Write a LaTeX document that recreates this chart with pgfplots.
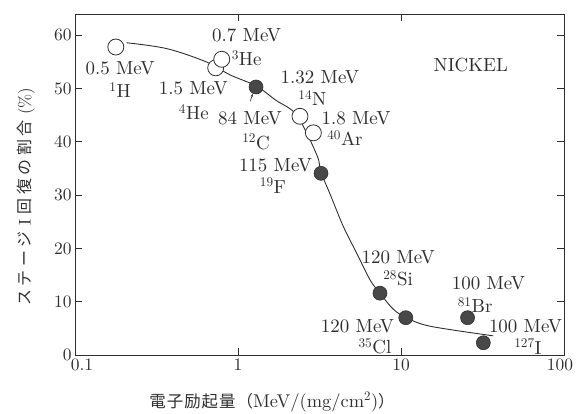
\documentclass[border=0pt]{standalone}
\usepackage{pgfplots}
\pgfplotsset{compat=1.18}
\usetikzlibrary{arrows.meta}
\usepackage{fontspec}
\setmainfont{lmroman10-regular.otf}[BoldFont=lmroman10-bold.otf, ItalicFont=lmroman10-italic.otf]
\newfontfamily\cjk[LetterSpace=22]{Noto Sans CJK JP}
\newfontfamily\cjkx[LetterSpace=6]{Noto Sans CJK JP}
\definecolor{ink}{HTML}{2E2E2E}
\definecolor{dot}{HTML}{484848}
\begin{document}
\begin{tikzpicture}
\path[use as bounding box] (-75bp,-59bp) rectangle (509bp,355bp);
\begin{axis}[
  at={(0,0)}, anchor=south west,
  scale only axis, width=489bp, height=341bp,
  xmode=log, xmin=0.1, xmax=100, ymin=0, ymax=64,
  xtick={0.1,1,10,100}, xticklabels={\hspace*{14bp}0.1,1,10,\hspace*{-8bp}100},
  xminorticks=false,
  ytick={0,10,20,30,40,50,60},
  tick align=inside, major tick length=7bp,
  axis line style={ink, line width=0.9pt},
  every tick/.style={ink, line width=0.8pt},
  tick label style={font=\fontsize{17.5}{19}\selectfont, text=ink},
  /pgf/number format/assume math mode=true,
  xlabel={{\cjkx\fontsize{16.5}{18}\selectfont 電子励起量（}{\fontsize{18.5}{20}\selectfont MeV/(mg/cm\textsuperscript{2})}{\cjkx\fontsize{16.5}{18}\selectfont ）}},
  xlabel style={at={(axis description cs:0.403,-0.138)}, anchor=center, text=ink},
  ylabel={{\cjk\fontsize{16}{17}\selectfont ステージ}{\fontsize{17}{18}\selectfont\ I\ }{\cjk\fontsize{16}{17}\selectfont 回復の割合}{\fontsize{17}{18}\selectfont\ (\%)}},
  ylabel style={at={(axis description cs:-0.100,0.465)}, anchor=center, rotate=0, text=ink},
  clip=false,
  every node/.append style={text=ink},
]
% fitted curve
\addplot[ink, line width=0.9pt, smooth, tension=0.55] coordinates {
 (0.207,58.6) (0.366,57.5) (0.64,55.0) (0.89,52.6) (1.29,50.5) (1.71,47.8)
 (2.29,45.0) (3.04,37.6) (3.23,34.3) (3.66,30.3) (4.43,24.1) (5.35,19.1)
 (6.46,14.1) (7.43,11.6) (8.97,8.6) (10.8,7.0) (15.1,5.4) (36.8,3.6)
};
% open circles
\addplot[only marks, mark=*, mark size=8bp, mark options={fill=white, draw=ink, line width=0.8pt}] coordinates {
 (0.178,57.8) (0.73,53.9) (0.795,55.5) (2.40,44.8) (2.90,41.7)
};
% filled circles
\addplot[only marks, mark=*, mark size=7bp, mark options={fill=dot, draw=ink, line width=0.6pt}] coordinates {
 (1.29,50.3) (3.23,34.1) (7.43,11.6) (10.7,7.0) (25.6,7.0) (32,2.3)
};
\draw[ink, line width=0.6pt, -{Stealth[length=3bp,width=2.5bp]}] (axis cs:1.19,47.6) -- (axis cs:1.23,49.0);
\begin{scope}[every node/.style={font=\fontsize{19}{21}\selectfont, text=ink, inner sep=0pt, anchor=center}]
\node at (axis cs:0.189,53.8) {0.5 MeV};
\node at (axis cs:0.189,49.7) {\textsuperscript{1}H};
\node at (axis cs:1.13,60.0) {0.7 MeV};
\node at (axis cs:1.13,55.7) {\textsuperscript{3}He};
\node at (axis cs:0.532,50.1) {1.5 MeV};
\node at (axis cs:0.536,45.6) {\textsuperscript{4}He};
\node at (axis cs:1.185,44.5) {84 MeV};
\node at (axis cs:1.29,40.0) {\textsuperscript{12}C};
\node at (axis cs:1.70,35.6) {115 MeV};
\node at (axis cs:1.64,31.8) {\textsuperscript{19}F};
\node at (axis cs:3.18,52.2) {1.32 MeV};
\node at (axis cs:2.86,48.2) {\textsuperscript{14}N};
\node at (axis cs:5.30,44.4) {1.8 MeV};
\node at (axis cs:4.53,40.7) {\textsuperscript{40}Ar};
\node at (axis cs:26.8,54.4) {NICKEL};
\node at (axis cs:9.62,18.3) {120 MeV};
\node at (axis cs:9.60,14.4) {\textsuperscript{28}Si};
\node at (axis cs:34.4,13.4) {100 MeV};
\node at (axis cs:28.5,9.4) {\textsuperscript{81}Br};
\node at (axis cs:5.41,5.4) {120 MeV};
\node at (axis cs:6.92,1.6) {\textsuperscript{35}Cl};
\node at (axis cs:58.1,5.4) {100 MeV};
\node at (axis cs:60.1,1.6) {\textsuperscript{127}I};
\end{scope}
\end{axis}
\end{tikzpicture}
\end{document}
